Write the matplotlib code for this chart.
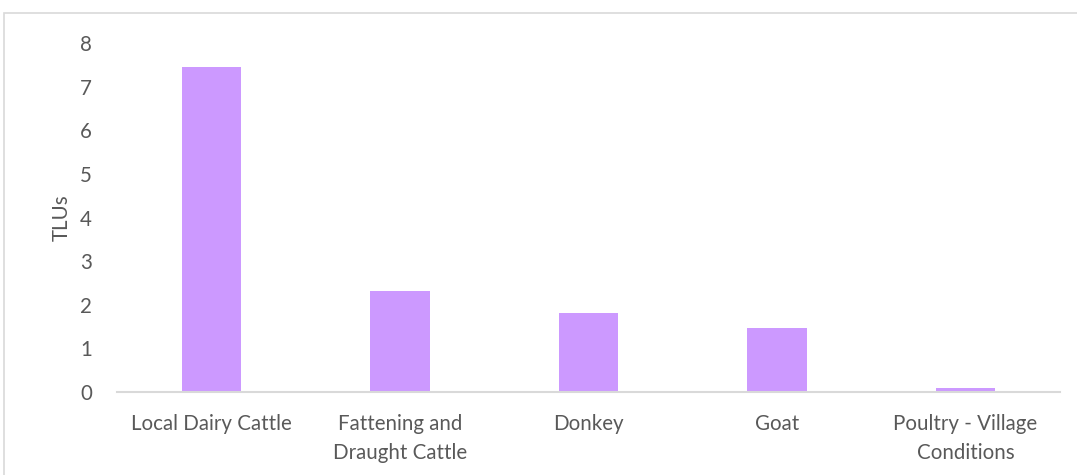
import matplotlib
matplotlib.use('Agg')
import matplotlib.pyplot as plt
import matplotlib.patches as patches

categories = ['Local Dairy Cattle', 'Fattening and\nDraught Cattle', 'Donkey', 'Goat',
              'Poultry - Village\nConditions']
tlus = [7.45, 2.32, 1.80, 1.46, 0.09]
yticks = [0, 1, 2, 3, 4, 5, 6, 7, 8]

plt.rcParams['font.family'] = ['Lato', 'DejaVu Sans']
txt = '#595959'

fig = plt.figure(figsize=(10.77, 4.75), dpi=100)
ax = fig.add_axes([0.1086, 0.1747, 0.8754, 0.7347])

# outer chart frame
fig.patches.append(patches.Rectangle((4 / 1077, -0.1), 1.1, 1 - 13 / 475 + 0.1,
                                     transform=fig.transFigure, fill=False,
                                     edgecolor='#d9d9d9', linewidth=1.2))

x = range(len(categories))
ax.bar(x, tlus, width=0.315, color='#cc99ff')
ax.set_xlim(-0.5, len(categories) - 0.5)
ax.set_ylim(0, 8)
ax.set_yticks(yticks)
ax.set_xticks(list(x))
ax.set_xticklabels(categories, fontsize=14.8, color=txt, linespacing=1.55)
ax.tick_params(axis='y', labelsize=14.8, labelcolor=txt, length=0, pad=18)
ax.tick_params(axis='x', length=0, pad=16)
ax.set_ylabel('TLUs', fontsize=14.8, color=txt, labelpad=6)

for s in ['top', 'right', 'left']:
    ax.spines[s].set_visible(False)
ax.spines['bottom'].set_color('#d9d9d9')
ax.spines['bottom'].set_linewidth(1.5)

fig.savefig('out.png', dpi=100)
